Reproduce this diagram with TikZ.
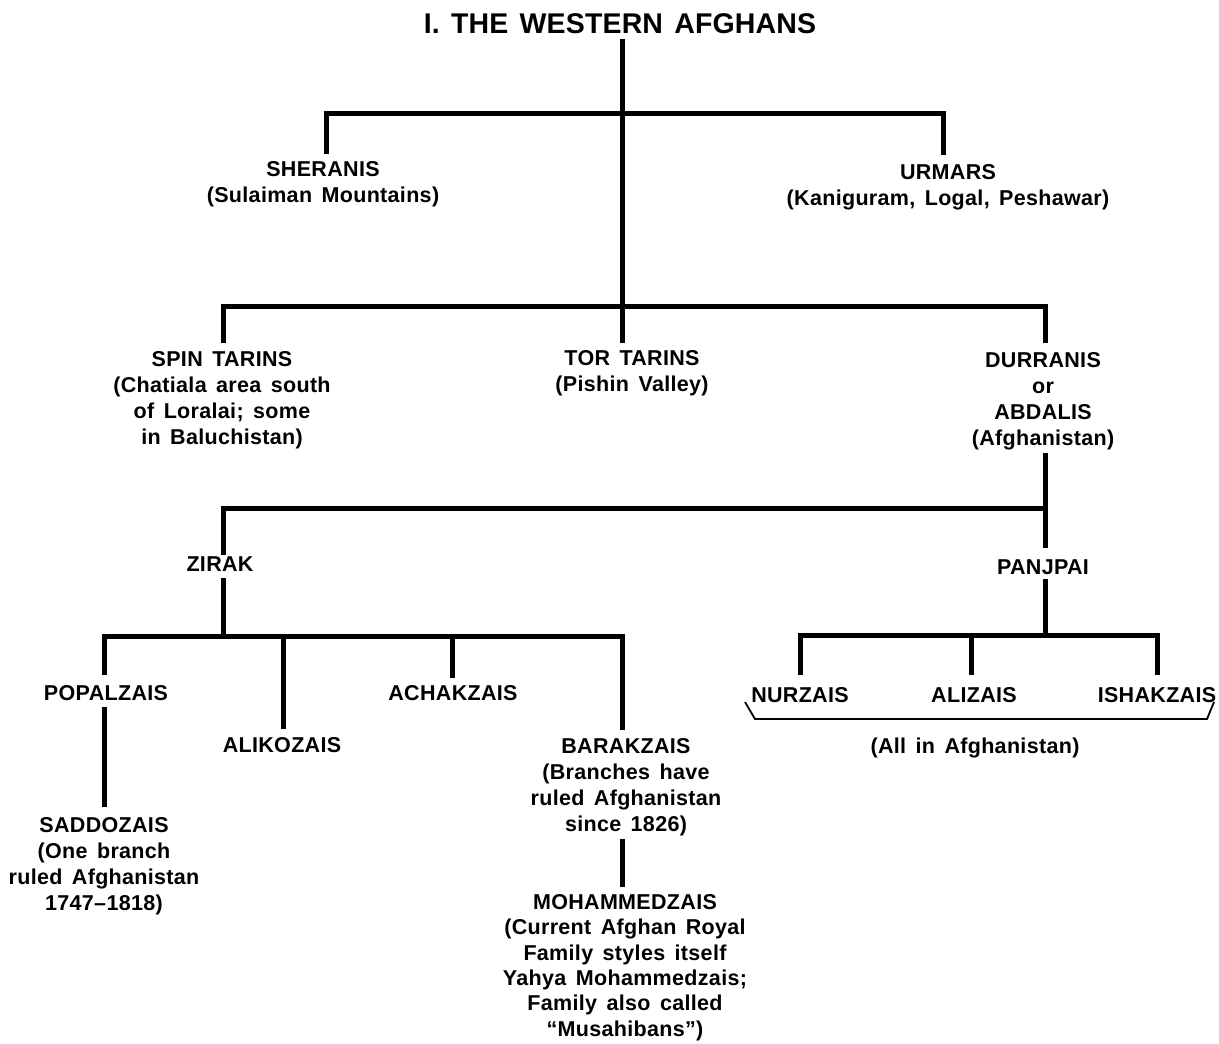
\documentclass[tikz,border=0pt]{standalone}
\usepackage{fontspec}
\newfontfamily\labfont{Liberation Sans}[LetterSpace=1.5,WordSpace=1.5]
\newfontfamily\titfont{Liberation Sans}[LetterSpace=0.5,WordSpace=1.4]
\usetikzlibrary{calc}
\begin{document}
\begin{tikzpicture}[x=1pt,y=-1pt,
  lab/.style={inner sep=0pt, anchor=north, align=center,
    font=\labfont\bfseries\fontsize{21.5}{26}\selectfont},
  link/.style={line width=5pt, line cap=butt, line join=miter},
  thin/.style={line width=1.8pt, line join=miter}]
\useasboundingbox (0,0) rectangle (1219,1044);
\fill[white] (0,0) rectangle (1219,1044);

% title
\node[inner sep=0pt, anchor=base, font=\titfont\bfseries\fontsize{28.5}{32}\selectfont] (title) at (620,33) {I. THE WESTERN AFGHANS};

% nodes
\node[lab] (sher) at (323,161) {SHERANIS\\(Sulaiman Mountains)};
\node[lab] (urm) at (948,164) {URMARS\\(Kaniguram, Logal, Peshawar)};
\node[lab] (spin) at (222,351) {SPIN TARINS\\(Chatiala area south\\of Loralai; some\\in Baluchistan)};
\node[lab] (tor) at (632,350) {TOR TARINS\\(Pishin Valley)};
\node[lab] (dur) at (1043,352) {DURRANIS\\or\\ABDALIS\\(Afghanistan)};
\node[lab] (zir) at (220,557) {ZIRAK};
\node[lab] (pan) at (1043,560) {PANJPAI};
\node[lab] (pop) at (106,685) {POPALZAIS};
\node[lab] (ali) at (282,737) {ALIKOZAIS};
\node[lab] (ach) at (453,685) {ACHAKZAIS};
\node[lab] (barak) at (626,738) {BARAKZAIS\\(Branches have\\ruled Afghanistan\\since 1826)};
\node[lab] (sad) at (104,817) {SADDOZAIS\\(One branch\\ruled Afghanistan\\1747–1818)};
\node[lab, font=\labfont\bfseries\fontsize{21.5}{25.4}\selectfont] (moh) at (625,894) {MOHAMMEDZAIS\\(Current Afghan Royal\\Family styles itself\\Yahya Mohammedzais;\\Family also called\\“Musahibans”)};
\node[lab] (nur) at (800,687) {NURZAIS};
\node[lab] (aliz) at (974,687) {ALIZAIS};
\node[lab] (ish) at (1157,687) {ISHAKZAIS};
\node[lab] (allaf) at (975,738) {(All in Afghanistan)};

% junctions
\coordinate (b1) at (622,113);
\coordinate (b2) at (622,306);
\coordinate (b3) at (1045,508);
\coordinate (b4) at (223,636);
\coordinate (b5) at (1045,635);

% connectors
\draw[link] ($(title.south -| b1)+(0,6)$) -- ($(tor.north -| b1)+(0,-7)$);
\draw[link] ($(sher.north)+(3,-7)$) |- (b1) -| ($(urm.north)+(-5,-9)$);
\draw[link] ($(spin.north)+(1,-8)$) |- (b2) -| ($(dur.north)+(2,-9)$);
\draw[link] ($(dur.south)+(2,3)$) -- ($(pan.north)+(2,-12)$);
\draw[link] ($(zir.north)+(3,-2)$) |- (b3);
\draw[link] ($(zir.south)+(3,6)$) -- (b4);
\draw[link] ($(pop.north)+(-2,-10)$) |- (b4) -| ($(barak.north)+(-4,-8)$);
\draw[link] ($(ali.north)+(1,-8)$) -- ($(ali.north |- b4)+(1,0)$);
\draw[link] ($(ach.north)+(-1,-7)$) -- ($(ach.north |- b4)+(-1,0)$);
\draw[link] ($(pop.south)+(-2,6)$) -- ($(sad.north)+(0,-10)$);
\draw[link] ($(barak.south)+(-4,3)$) -- ($(moh.north)+(-3,-7)$);
\draw[link] ($(pan.south)+(2,4)$) -- (b5);
\draw[link] ($(nur.north)+(0,-12)$) |- (b5) -| ($(ish.north)+(0,-12)$);
\draw[link] ($(aliz.north)+(-3,-12)$) -- ($(aliz.north |- b5)+(-3,0)$);

% brace under the Panjpai groups
\coordinate (br1) at (745,702);
\coordinate (br2) at (755,719);
\coordinate (br3) at (1207,719);
\coordinate (br4) at (1214,702);
\draw[thin] (br1) -- (br2) -- (br3) -- (br4);
\end{tikzpicture}
\end{document}
